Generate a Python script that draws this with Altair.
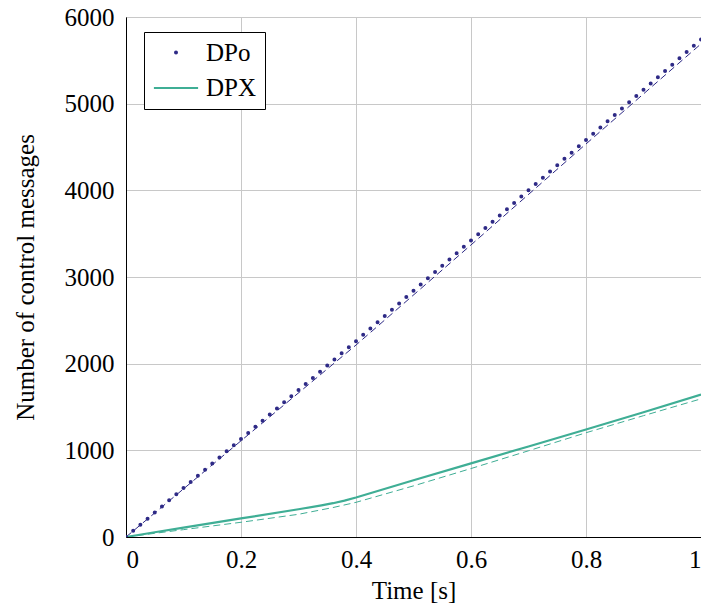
import altair as alt
import pandas as pd

# ---- data ----
series_names = ["DPo", "DPX"]
series_colors = ["#2e2a86", "#3fae95"]

dpo_t = [0, 0.0125, 0.025, 0.0375, 0.05, 0.0625, 0.075, 0.0875, 0.1, 0.1125, 0.125, 0.1375,
         0.15, 0.1625, 0.175, 0.1875, 0.2, 0.2125, 0.225, 0.2375, 0.25, 0.2625, 0.275, 0.2875,
         0.3, 0.3125, 0.325, 0.3375, 0.35, 0.3625, 0.375, 0.3875, 0.4, 0.4125, 0.425, 0.4375,
         0.45, 0.4625, 0.475, 0.4875, 0.5, 0.5125, 0.525, 0.5375, 0.55, 0.5625, 0.575, 0.5875,
         0.6, 0.6125, 0.625, 0.6375, 0.65, 0.6625, 0.675, 0.6875, 0.7, 0.7125, 0.725, 0.7375,
         0.75, 0.7625, 0.775, 0.7875, 0.8, 0.8125, 0.825, 0.8375, 0.85, 0.8625, 0.875, 0.8875,
         0.9, 0.9125, 0.925, 0.9375, 0.95, 0.9625, 0.975, 0.9875, 1.0]
dpo_v = [0, 71, 141, 212, 283, 353, 424, 494, 565, 636, 706, 777,
         848, 918, 989, 1059, 1130, 1201, 1271, 1342, 1413, 1483, 1554, 1624,
         1695, 1766, 1836, 1907, 1978, 2048, 2119, 2189, 2260, 2333, 2405, 2478,
         2550, 2623, 2695, 2768, 2840, 2913, 2985, 3058, 3130, 3203, 3275, 3348,
         3420, 3493, 3565, 3638, 3710, 3783, 3855, 3928, 4000, 4073, 4145, 4218,
         4290, 4363, 4435, 4508, 4580, 4653, 4725, 4798, 4870, 4943, 5015, 5088,
         5160, 5233, 5305, 5378, 5450, 5523, 5595, 5668, 5740]

dpo_ref_t = [0, 0.2, 0.4, 0.6, 0.8, 1.0]
dpo_ref_v = [0, 1110, 2215, 3370, 4535, 5690]

dpx_t = [0, 0.05, 0.1, 0.2, 0.3, 0.34, 0.36, 0.38, 0.4, 0.5, 0.6, 0.7, 0.8, 0.9, 1.0]
dpx_v = [0, 55, 108, 214, 320, 365, 390, 420, 456, 655, 850, 1045, 1240, 1440, 1644]

dpx_ref_t = [0, 0.1, 0.2, 0.3, 0.36, 0.4, 0.5, 0.6, 0.7, 0.8, 0.9, 1.0]
dpx_ref_v = [0, 85, 170, 262, 340, 400, 590, 790, 995, 1203, 1400, 1594]

x_ticks = [0, 0.2, 0.4, 0.6, 0.8, 1.0]
y_ticks = [0, 1000, 2000, 3000, 4000, 5000, 6000]

dpo_df = pd.DataFrame({"t": dpo_t, "v": dpo_v, "series": "DPo"})
dpx_df = pd.DataFrame({"t": dpx_t, "v": dpx_v})
dpo_ref_df = pd.DataFrame({"t": dpo_ref_t, "v": dpo_ref_v})
dpx_ref_df = pd.DataFrame({"t": dpx_ref_t, "v": dpx_ref_v})

FONT = "Liberation Serif"
PLOT_W = 575
PLOT_H = 520
PAD_L = 118

x_enc = alt.X("t:Q", scale=alt.Scale(domain=[0, 1], nice=False, zero=False),
              axis=alt.Axis(values=x_ticks, format="~g", title="Time [s]"))
y_enc = alt.Y("v:Q", scale=alt.Scale(domain=[0, 6000], nice=False),
              axis=alt.Axis(values=y_ticks, format="d", title="Number of control messages",
                            titleX=-88, titleY=PLOT_H / 2, titleBaseline="bottom"))

dpo_ref = alt.Chart(dpo_ref_df).mark_line(
    color=series_colors[0], strokeWidth=1, strokeDash=[7, 4], clip=True
).encode(x=x_enc, y=y_enc)

dpx_ref = alt.Chart(dpx_ref_df).mark_line(
    color=series_colors[1], strokeWidth=1, strokeDash=[7, 4], clip=True
).encode(x=x_enc, y=y_enc)

dpx_line = alt.Chart(dpx_df).mark_line(
    color=series_colors[1], strokeWidth=2.2, clip=True
).encode(x=x_enc, y=y_enc)

legend = alt.Legend(
    title=None, orient="none", legendX=144 - (8 + PAD_L), legendY=15,
    labelExpr="datum.label + '\u00a0'",
)
dpo_points = alt.Chart(dpo_df).mark_point(filled=False, strokeWidth=2, clip=True, opacity=1).encode(
    x=x_enc, y=y_enc,
    color=alt.Color("series:N", scale=alt.Scale(domain=series_names, range=series_colors), legend=legend),
    shape=alt.Shape("series:N", scale=alt.Scale(domain=series_names, range=["circle", "M-1.7,0H1.7"]),
                    legend=legend),
    size=alt.Size("series:N", scale=alt.Scale(domain=series_names, range=[4, 676]), legend=legend),
)

chart = alt.layer(dpo_ref, dpx_ref, dpx_line, dpo_points).properties(
    width=PLOT_W, height=PLOT_H,
    autosize=alt.AutoSizeParams(type="none"),
    padding={"left": PAD_L, "top": 9, "right": 0, "bottom": 69},
).configure_view(
    stroke="black", strokeWidth=1
).configure_axis(
    labelFont=FONT, titleFont=FONT, labelFontSize=25, titleFontSize=25,
    labelColor="black", titleColor="black", titleFontWeight="normal",
    domainColor="black", domainWidth=1, ticks=False, labelPadding=12,
    gridColor="#c8c8c8", gridWidth=1, titlePadding=8,
).configure_axisX(labelPadding=10, titlePadding=6).configure_legend(
    labelFont=FONT, labelFontSize=25, labelColor="black",
    strokeColor="black", fillColor="white", padding=8, rowPadding=8,
    symbolOffset=10, labelOffset=16, symbolStrokeWidth=2, cornerRadius=0,
)

chart.save("out.html", embed_options={"renderer": "svg", "actions": False})
